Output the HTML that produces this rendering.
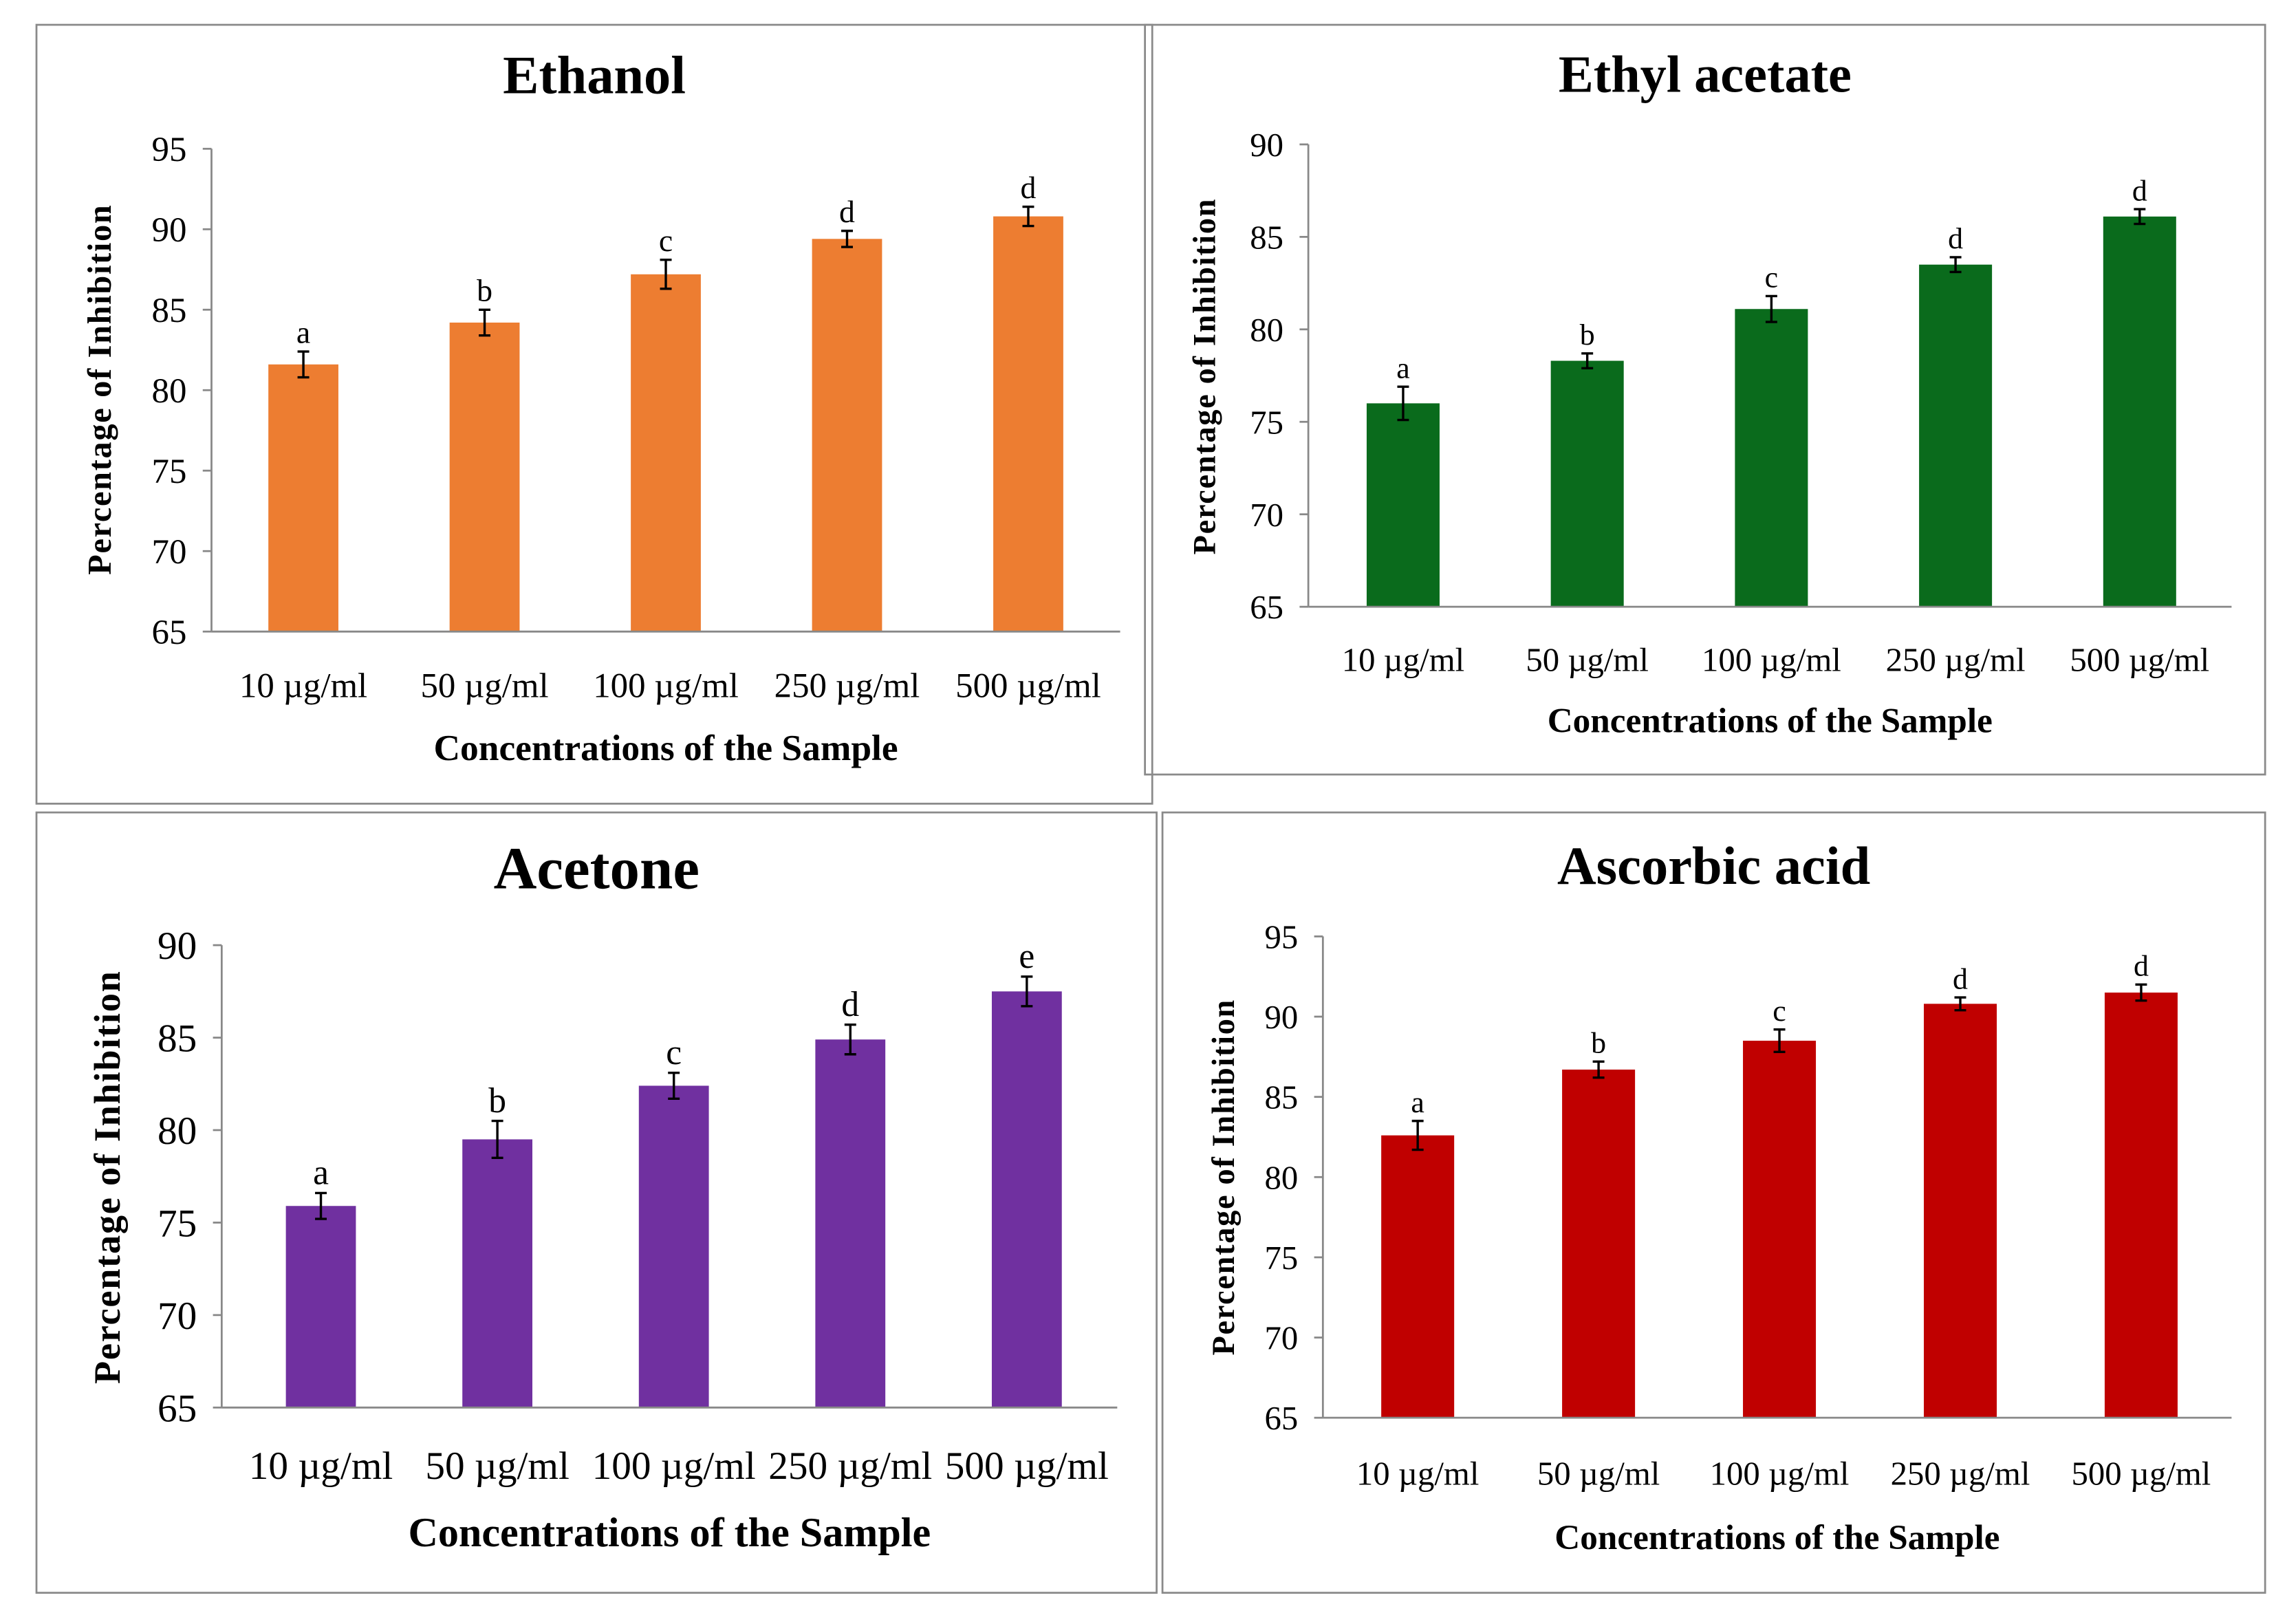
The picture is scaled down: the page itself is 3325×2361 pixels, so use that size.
<!DOCTYPE html>
<html><head><meta charset="utf-8"><style>
html,body{margin:0;padding:0;background:#fff;}
svg{display:block;}
text{font-family:"Liberation Serif",serif;fill:#000;}
</style></head><body>
<svg id="fig" width="3325" height="2361" viewBox="0 0 1568 1113.4" xmlns="http://www.w3.org/2000/svg">
<rect x="0" y="0" width="1568" height="1114" fill="#fff"/>
</svg>
<script>
const categories = ["10 µg/ml","50 µg/ml","100 µg/ml","250 µg/ml","500 µg/ml"];
const ethanolValues = [81.6, 84.2, 87.2, 89.4, 90.8];
const ethanolErrors = [0.8, 0.8, 0.9, 0.5, 0.6];
const ethanolLetters = ["a","b","c","d","d"];
const ethylValues = [76.0, 78.3, 81.1, 83.5, 86.1];
const ethylErrors = [0.9, 0.4, 0.7, 0.4, 0.4];
const ethylLetters = ["a","b","c","d","d"];
const acetoneValues = [75.9, 79.5, 82.4, 84.9, 87.5];
const acetoneErrors = [0.7, 1.0, 0.7, 0.8, 0.8];
const acetoneLetters = ["a","b","c","d","e"];
const ascorbicValues = [82.6, 86.7, 88.5, 90.8, 91.5];
const ascorbicErrors = [0.9, 0.5, 0.7, 0.4, 0.5];
const ascorbicLetters = ["a","b","c","d","d"];
const ticks95 = [65,70,75,80,85,90,95];
const ticks90 = [65,70,75,80,85,90];

const NS="http://www.w3.org/2000/svg";
const svg=document.getElementById('fig');
function mk(tag,attrs,parent,txt){const e=document.createElementNS(NS,tag);for(const k in attrs)e.setAttribute(k,attrs[k]);if(txt!==undefined)e.textContent=txt;(parent||svg).appendChild(e);return e;}

const panels=[
 {key:'ethanol',title:'Ethanol',values:ethanolValues,errors:ethanolErrors,letters:ethanolLetters,ticks:ticks95,color:'#ED7D31',
  box:[25,17,765,534],ax:145,yTop:102,yBot:433,xEnd:768,x0:208,step:124.25,bw:48,titleY:64,titleSize:37,tickSize:24,labY:478,xtY:521,ytX:76,ytY:267},
 {key:'ethyl-acetate',title:'Ethyl acetate',values:ethylValues,errors:ethylErrors,letters:ethylLetters,ticks:ticks90,color:'#0A6B1C',
  box:[785,17,768,514],ax:897,yTop:99,yBot:416,xEnd:1530,x0:962,step:126.25,bw:50,titleY:63,titleSize:36,tickSize:23,labY:460,xtY:502,ytX:833,ytY:258},
 {key:'acetone',title:'Acetone',values:acetoneValues,errors:acetoneErrors,letters:acetoneLetters,ticks:ticks90,color:'#7030A0',
  box:[25,557,768,535],ax:152,yTop:648,yBot:965,xEnd:766,x0:220,step:121,bw:48,titleY:609,titleSize:41,tickSize:27,labY:1014,xtY:1060,ytX:82,ytY:807},
 {key:'ascorbic-acid',title:'Ascorbic acid',values:ascorbicValues,errors:ascorbicErrors,letters:ascorbicLetters,ticks:ticks95,color:'#C00000',
  box:[797,557,756,535],ax:907,yTop:642,yBot:972,xEnd:1530,x0:972,step:124,bw:50,titleY:606,titleSize:37,tickSize:23,labY:1018,xtY:1062,ytX:846,ytY:807}
];

panels.forEach(p=>{
  const g=mk('g',{});
  
  
  const b=mk('rect',{x:p.box[0],y:p.box[1],width:p.box[2],height:p.box[3],fill:'none',stroke:'#8a8a8a','stroke-width':1.3},g);
  
  
  const t=mk('text',{x:p.box[0]+p.box[2]/2,y:p.titleY,'text-anchor':'middle','font-size':p.titleSize,'font-weight':'bold'},g,p.title);
  
  
  const lo=p.ticks[0],hi=p.ticks[p.ticks.length-1];
  const y=v=>p.yBot-(v-lo)/(hi-lo)*(p.yBot-p.yTop);
  const x=i=>p.x0+i*p.step;
  const ya=mk('line',{x1:p.ax,y1:p.yTop,x2:p.ax,y2:p.yBot,stroke:'#888','stroke-width':1.3},g);
  
  
  p.ticks.forEach(v=>{
    mk('line',{x1:p.ax-6,y1:y(v),x2:p.ax,y2:y(v),stroke:'#888','stroke-width':1.3},g);
    const tl=mk('text',{x:p.ax-17,y:y(v)+p.tickSize*0.35,'text-anchor':'end','font-size':p.tickSize},g,String(v));
    
    
  });
  p.values.forEach((v,i)=>{
    const r=mk('rect',{x:x(i)-p.bw/2,y:y(v),width:p.bw,height:p.yBot-y(v),fill:p.color},g);
    
    
    const e=p.errors[i],t1=y(v+e),b1=y(v-e);
    const eg=mk('g',{stroke:'#000','stroke-width':1.6},g);
    
    
    mk('line',{x1:x(i),y1:t1,x2:x(i),y2:b1},eg);
    mk('line',{x1:x(i)-4,y1:t1,x2:x(i)+4,y2:t1},eg);
    mk('line',{x1:x(i)-4,y1:b1,x2:x(i)+4,y2:b1},eg);
    const lt=mk('text',{x:x(i),y:t1-6,'text-anchor':'middle','font-size':p.tickSize*0.9},g,p.letters[i]);
    
    
    const cl=mk('text',{x:x(i),y:p.labY,'text-anchor':'middle','font-size':p.tickSize},g,categories[i]);
    
    
  });
  const xa=mk('line',{x1:p.ax,y1:p.yBot,x2:p.xEnd,y2:p.yBot,stroke:'#888','stroke-width':1.3},g);
  
  
  const xt=mk('text',{x:(p.ax+p.xEnd)/2,y:p.xtY,'text-anchor':'middle','font-size':p.tickSize*1.05,'font-weight':'bold'},g,'Concentrations of the Sample');
  
  
  const yt=mk('text',{x:0,y:0,'text-anchor':'middle','font-size':p.tickSize*0.95,'font-weight':'bold','letter-spacing':'0.8',transform:`translate(${p.ytX},${p.ytY}) rotate(-90)`},g,'Percentage  of Inhibition');
  
  
});
</script>
</body></html>
